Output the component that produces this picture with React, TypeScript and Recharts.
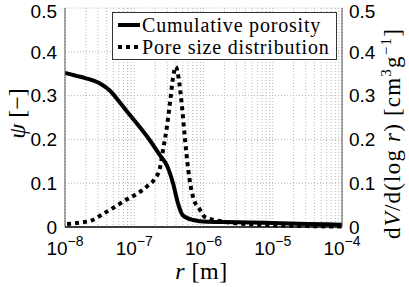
import {
    LineChart,
    Line,
    XAxis,
    YAxis,
    CartesianGrid,
} from "recharts";

// radius as log10(r), values in [-]
const cumExp = [-8.0, -7.78, -7.5, -7.35, -7.21, -7.06, -6.92, -6.77, -6.63, -6.53, -6.44, -6.37, -6.3, -6.15, -5.95, -5.5, -5.0, -4.5, -4.0];
const cumPorosity = [0.352, 0.343, 0.328, 0.311, 0.285, 0.255, 0.228, 0.197, 0.164, 0.141, 0.1, 0.055, 0.027, 0.016, 0.012, 0.011, 0.009, 0.007, 0.005];

const psdExp = [-7.97, -7.78, -7.6, -7.45, -7.31, -7.13, -6.99, -6.82, -6.7, -6.63, -6.585, -6.53, -6.48, -6.44, -6.4, -6.36, -6.315, -6.27, -6.22, -6.15, -6.05, -5.98, -5.7, -5.3, -5.0, -4.5, -4.0];
const poreSizeDist = [0.007, 0.01, 0.016, 0.03, 0.043, 0.061, 0.073, 0.092, 0.111, 0.134, 0.175, 0.227, 0.289, 0.341, 0.366, 0.341, 0.282, 0.205, 0.13, 0.068, 0.039, 0.023, 0.012, 0.006, 0.004, 0.002, 0.001];

const xTicks = [1e-8, 1e-7, 1e-6, 1e-5, 1e-4];
const yTicks = [0, 0.1, 0.2, 0.3, 0.4, 0.5];
const minorMult = [1, 2, 3, 4, 5, 6, 7, 8, 9];

const cumData = cumExp.map((e, i) => ({ r: 10 ** e, psi: cumPorosity[i] }));
const psdData = psdExp.map((e, i) => ({ r: 10 ** e, dv: poreSizeDist[i] }));
const gridR = xTicks.slice(0, -1).flatMap((d) => minorMult.map((m) => d * m)).concat([1e-4]);

const tickFont = "'Liberation Sans', Arial, sans-serif";
const labelFont = "'Liberation Serif', 'Times New Roman', serif";

const PowerTick = (props: any) => {
    const { x, y, payload } = props;
    const exp = Math.round(Math.log10(payload.value));
    return (
        <text x={x} y={y + 20} textAnchor="middle" fontFamily={tickFont} fontSize={19} fill="#000">
            10
            <tspan dy={-9} fontSize={14}>{`−${Math.abs(exp)}`}</tspan>
        </text>
    );
};

// log grid positions: use the axis scale if it's callable, else map over the plot box
const logGrid = ({ xAxis, offset }: any) => {
    const s = xAxis?.scale;
    if (typeof s === "function") return gridR.map((v) => s(v));
    if (s && typeof s.map === "function") return gridR.map((v) => s.map(v));
    const lo = Math.log10(xTicks[0]);
    const hi = Math.log10(xTicks[xTicks.length - 1]);
    return gridR.map((v) => offset.left + (offset.width * (Math.log10(v) - lo)) / (hi - lo));
};

const XLabel = ({ viewBox }: any) => (
    <text x={viewBox.x + viewBox.width / 2 - 2} y={viewBox.y + 52} textAnchor="middle" fontFamily={labelFont} fontSize={24} letterSpacing={0.5} fill="#000">
        <tspan fontStyle="italic">r</tspan> [m]
    </text>
);

const LeftLabel = ({ viewBox }: any) => {
    const cx = 25;
    const cy = viewBox.y + viewBox.height / 2 - 4;
    return (
        <text x={cx} y={cy} transform={`rotate(-90 ${cx} ${cy})`} textAnchor="middle" fontFamily={labelFont} fontSize={24} fill="#000">
            <tspan fontStyle="italic">ψ</tspan> [−]
        </text>
    );
};

const RightLabel = ({ viewBox }: any) => {
    const cx = viewBox.x + viewBox.width - 9;
    const cy = viewBox.y + viewBox.height / 2 + 16;
    return (
        <text x={cx} y={cy} transform={`rotate(-90 ${cx} ${cy})`} textAnchor="middle" fontFamily={labelFont} fontSize={23} letterSpacing={1.2} fill="#000">
            d<tspan fontStyle="italic">V</tspan>/d(log <tspan fontStyle="italic">r</tspan>) [cm<tspan dy={-9} fontSize={15}>3</tspan><tspan dy={9}>g</tspan><tspan dy={-9} fontSize={15}>−1</tspan><tspan dy={9}>]</tspan>
        </text>
    );
};

const LegendBox = () => (
    <div style={{ position: "absolute", left: 112, top: 12, width: 225, height: 48, border: "1px solid #333", background: "#fff", fontFamily: labelFont, fontSize: 20, letterSpacing: 0.8, lineHeight: "22px", padding: "1px 0 0 4px", boxSizing: "border-box" }}>
        <div style={{ display: "flex", alignItems: "center", whiteSpace: "nowrap" }}>
            <svg width={24} height={8}><line x1={1} y1={4} x2={23} y2={4} stroke="#000" strokeWidth={4} /></svg>
            <span style={{ marginLeft: 1 }}>Cumulative porosity</span>
        </div>
        <div style={{ display: "flex", alignItems: "center", whiteSpace: "nowrap" }}>
            <svg width={24} height={8}><line x1={1} y1={4} x2={23} y2={4} stroke="#000" strokeWidth={4} strokeDasharray="4 4" /></svg>
            <span style={{ marginLeft: 1 }}>Pore size distribution</span>
        </div>
    </div>
);

export default function App() {
    return (
        <div style={{ position: "absolute", left: 0, top: 0, width: 409, height: 287, background: "#fff" }}>
            <LineChart width={409} height={287} margin={{ top: 8, right: 0, bottom: 0, left: 0 }}>
                <CartesianGrid
                    stroke="#b5b5b5"
                    strokeDasharray="1 2"
                    xAxisId="bottom"
                    yAxisId="left"
                    verticalCoordinatesGenerator={logGrid}
                />
                <XAxis
                    xAxisId="bottom"
                    dataKey="r"
                    type="number"
                    scale="log"
                    domain={[1e-8, 1e-4]}
                    ticks={xTicks}
                    allowDataOverflow
                    height={60}
                    tickLine={false}
                    axisLine={{ stroke: "#000", strokeWidth: 1.5 }}
                    tick={<PowerTick />}
                    interval={0}
                    label={<XLabel />}
                />
                <XAxis xAxisId="top" orientation="top" type="number" scale="log" domain={[1e-8, 1e-4]} height={0} tick={false} tickLine={false} axisLine={{ stroke: "#555" }} />
                <YAxis
                    yAxisId="left"
                    domain={[0, 0.5]}
                    ticks={yTicks}
                    width={65}
                    tickLine={false}
                    axisLine={{ stroke: "#555" }}
                    tick={{ fontFamily: tickFont, fontSize: 19, fill: "#000" }}
                    tickMargin={2}
                    tickFormatter={(v: number) => (v === 0 ? "0" : String(v))}
                    label={<LeftLabel />}
                />
                <YAxis
                    yAxisId="right"
                    orientation="right"
                    domain={[0, 0.5]}
                    ticks={yTicks}
                    width={67}
                    tickLine={false}
                    axisLine={{ stroke: "#555" }}
                    tick={{ fontFamily: tickFont, fontSize: 19, fill: "#000", textAnchor: "start" }}
                    tickMargin={1}
                    tickFormatter={(v: number) => (v === 0 ? "0" : String(v))}
                    label={<RightLabel />}
                />
                <Line
                    xAxisId="bottom"
                    yAxisId="left"
                    data={cumData}
                    dataKey="psi"
                    type="monotone"
                    stroke="#000"
                    strokeWidth={4}
                    dot={false}
                    isAnimationActive={false}
                />
                <Line
                    xAxisId="bottom"
                    yAxisId="right"
                    data={psdData}
                    dataKey="dv"
                    type="monotone"
                    stroke="#000"
                    strokeWidth={4}
                    strokeDasharray="4 4"
                    dot={false}
                    isAnimationActive={false}
                />
            </LineChart>
            <LegendBox />
        </div>
    );
}
